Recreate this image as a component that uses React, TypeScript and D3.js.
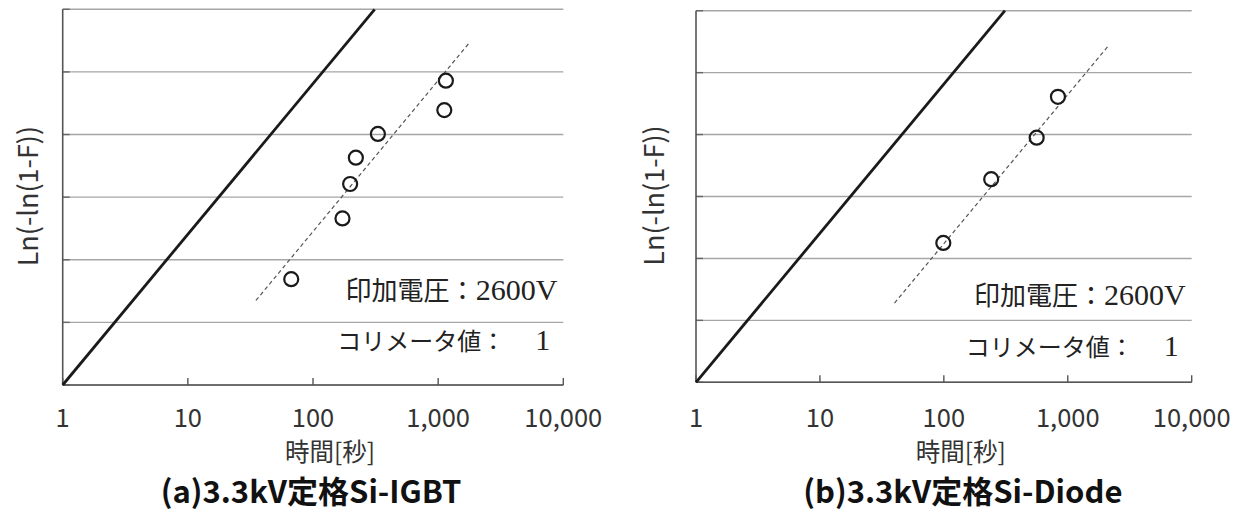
import * as d3 from "d3";

// axis ticks (seconds, log scale) and Weibull grid levels
const xTickValues = [1, 10, 100, 1000, 10000];
const xTickLabels = ["1", "10", "100", "1,000", "10,000"];
const yGridValues = [-4, -3, -2, -1, 0, 1, 2];

// reference line (solid)
const refTimes = [1, 311];
const refValues = [-4, 2];

// (a) Si-IGBT
const igbtTimes = [67, 172, 198, 220, 330, 1120, 1153];
const igbtValues = [-2.31, -1.34, -0.79, -0.37, 0.01, 0.39, 0.86];
const igbtFitTimes = [35, 1800];
const igbtFitValues = [-2.65, 1.48];

// (b) Si-Diode
const diodeTimes = [99, 241, 561, 833];
const diodeValues = [-1.75, -0.72, -0.05, 0.61];
const diodeFitTimes = [40, 2140];
const diodeFitValues = [-2.72, 1.44];

const titles = ["(a)3.3kV定格Si-IGBT", "(b)3.3kV定格Si-Diode"];
const xAxisLabel = "時間[秒]";
const yAxisLabel = "Ln(-ln(1-F))";
const noteVoltage = ["印加電圧：", "2600V"];
const noteCollimator = ["コリメータ値：", "1"];

const sans = "'Noto Sans CJK JP', 'Noto Sans', sans-serif";
const serif = "'Liberation Serif', 'Noto Sans CJK JP', serif";

type PanelProps = {
  left: number;
  right: number;
  top: number;
  bottom: number;
  yLabelX: number;
  titleDx: number;
  times: number[];
  values: number[];
  fitTimes: number[];
  fitValues: number[];
  title: string;
  noteY1: number;
  noteY2: number;
};

function Panel(p: PanelProps) {
  const x = d3.scaleLog().domain([1, 10000]).range([p.left, p.right]);
  const y = d3.scaleLinear().domain([-4, 2]).range([p.bottom, p.top]);
  const line = d3
    .line<[number, number]>()
    .x((d) => x(d[0]))
    .y((d) => y(d[1]));

  const ref = refTimes.map((t, i) => [t, refValues[i]] as [number, number]);
  const fit = p.fitTimes.map((t, i) => [t, p.fitValues[i]] as [number, number]);
  const pts = p.times.map((t, i) => [t, p.values[i]] as [number, number]);
  const cx = (p.left + p.right) / 2;

  return (
    <g>
      {yGridValues.map((v) => (
        <g key={v}>
          <line x1={p.left} x2={p.right} y1={y(v)} y2={y(v)} stroke="#a6a6a6" strokeWidth={1.4} />
          <line x1={p.left} x2={p.left + 7} y1={y(v)} y2={y(v)} stroke="#666" strokeWidth={1.4} />
        </g>
      ))}
      <line x1={p.left} x2={p.left} y1={p.top} y2={p.bottom} stroke="#555" strokeWidth={1.6} />
      <line x1={p.left} x2={p.right} y1={p.bottom} y2={p.bottom} stroke="#555" strokeWidth={1.6} />
      {xTickValues.map((t, i) => (
        <g key={t}>
          <line x1={x(t)} x2={x(t)} y1={p.bottom} y2={p.bottom - 7} stroke="#555" strokeWidth={1.4} />
          <text x={x(t)} y={427} textAnchor="middle" fontFamily={sans} fontSize={25.5} fill="#333">
            {xTickLabels[i]}
          </text>
        </g>
      ))}

      <path d={line(ref) ?? ""} fill="none" stroke="#1a1a1a" strokeWidth={2.8} />
      <path d={line(fit) ?? ""} fill="none" stroke="#555" strokeWidth={1.2} strokeDasharray="4,3" />
      {pts.map((d, i) => (
        <circle key={i} cx={x(d[0])} cy={y(d[1])} r={7} fill="none" stroke="#1a1a1a" strokeWidth={2.2} />
      ))}

      <text x={p.right - 6} y={p.noteY1} textAnchor="end" fill="#222">
        <tspan fontFamily={sans} fontSize={26}>{noteVoltage[0]}</tspan>
        <tspan fontFamily={serif} fontSize={30}>{noteVoltage[1]}</tspan>
      </text>
      <text x={p.right - 13} y={p.noteY2} textAnchor="end" fill="#222">
        <tspan fontFamily={sans} fontSize={24}>{noteCollimator[0]}</tspan>
        <tspan fontFamily={serif} fontSize={30} dx={30}>{noteCollimator[1]}</tspan>
      </text>

      <text
        transform={`translate(${p.yLabelX},${(p.top + p.bottom) / 2 - 1}) rotate(-90)`}
        textAnchor="middle"
        dominantBaseline="central"
        fontFamily={sans}
        fontSize={27}
        fill="#333"
      >
        {yAxisLabel}
      </text>
      <text x={cx + 17} y={461} textAnchor="middle" fontFamily={sans} fontSize={24.5} fill="#333">
        {xAxisLabel}
      </text>
      <text
        x={cx + p.titleDx}
        y={502.5}
        textAnchor="middle"
        fontFamily={sans}
        fontWeight={700}
        fontSize={31}
        fill="#111"
      >
        {p.title}
      </text>
    </g>
  );
}

export default function App() {
  return (
    <svg
      width={1247}
      height={512}
      style={{ position: "absolute", left: 0, top: 0, background: "#fff" }}
    >
      <rect width={1247} height={512} fill="#fff" />
      <Panel
        left={62.7}
        right={563.3}
        top={9.3}
        bottom={385}
        yLabelX={26}
        titleDx={-2}
        times={igbtTimes}
        values={igbtValues}
        fitTimes={igbtFitTimes}
        fitValues={igbtFitValues}
        title={titles[0]}
        noteY1={300}
        noteY2={350}
      />
      <Panel
        left={696}
        right={1191.7}
        top={10.7}
        bottom={382.3}
        yLabelX={652}
        titleDx={19}
        times={diodeTimes}
        values={diodeValues}
        fitTimes={diodeFitTimes}
        fitValues={diodeFitValues}
        title={titles[1]}
        noteY1={305}
        noteY2={356}
      />
    </svg>
  );
}
